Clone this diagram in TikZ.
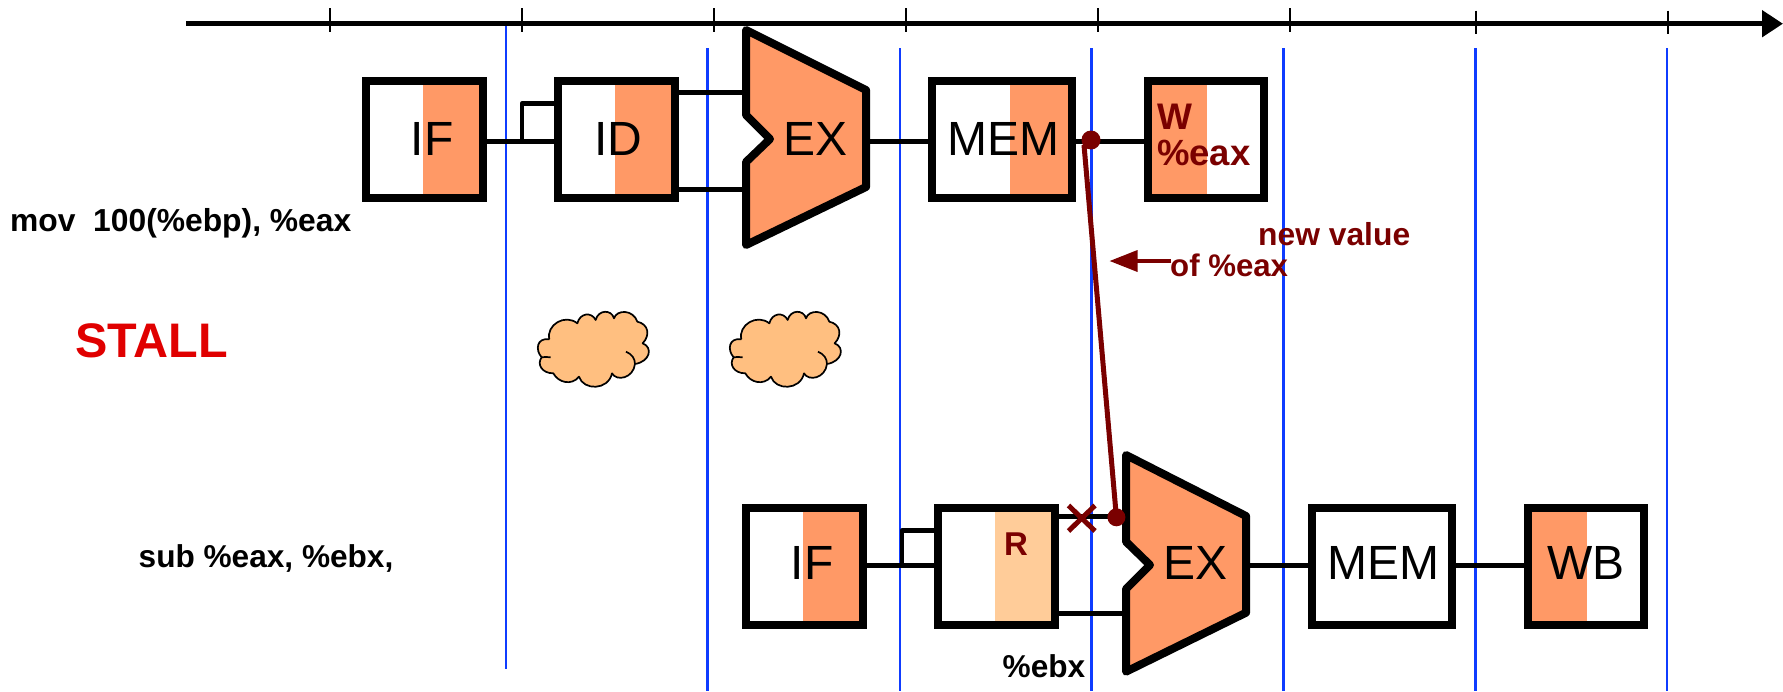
\documentclass[tikz,border=0pt]{standalone}
\usepackage{fontspec}
\setmainfont{Liberation Sans}
\usetikzlibrary{arrows.meta}
\definecolor{stageorange}{HTML}{FF9966}
\definecolor{lightorange}{HTML}{FFCC99}
\definecolor{cloudorange}{HTML}{FFBF80}
\definecolor{cycleblue}{HTML}{0F3CFF}
\definecolor{darkred}{HTML}{7A0000}
\definecolor{stallred}{HTML}{E00000}
\tikzset{
  stagebox/.style={draw=black,line width=8pt,inner sep=0pt,minimum height=117pt,minimum width=#1},
  wire/.style={draw=black,line width=5pt},
  thinwire/.style={draw=black,line width=4.5pt,line join=round},
  exunit/.style={draw=black,fill=stageorange,line width=8pt,line join=round},
  stagetext/.style={anchor=base,inner sep=0pt,font=\fontsize{48}{48}\selectfont},
  boldlabel/.style={anchor=base west,inner sep=0pt,font=\fontsize{#1}{#1}\selectfont\bfseries},
  redlabel/.style={boldlabel=#1,text=darkred},
  cyclebar/.style={draw=cycleblue,line width=2.2pt},
  tickmark/.style={draw=black,line width=2pt},
  cloudpic/.pic={
    \begin{scope}[x=0.3333pt,y=-0.3333pt]
    \filldraw[fill=cloudorange,draw=black,line width=1.7pt,line join=round]
      (148,148) .. controls (138,105) and (195,70) .. (232,100)
      .. controls (240,68) and (275,65) .. (287,90)
      .. controls (295,58) and (335,58) .. (342,85)
      .. controls (350,58) and (400,58) .. (412,95)
      .. controls (445,102) and (452,135) .. (428,160)
      .. controls (460,172) and (450,215) .. (405,222)
      .. controls (400,265) and (350,275) .. (336,250)
      .. controls (325,302) and (250,302) .. (237,260)
      .. controls (215,288) and (175,278) .. (160,250)
      .. controls (125,250) and (110,222) .. (125,202)
      .. controls (105,180) and (110,142) .. (148,148);
    \draw[black,line width=1.7pt] (125,202) .. controls (132,200) and (142,201) .. (152,202);
    \draw[black,line width=1.7pt] (378,185) .. controls (395,192) and (405,205) .. (405,222);
    \end{scope}
  }
}
\begin{document}
\begin{tikzpicture}[x=1pt,y=-1pt]
\useasboundingbox (0,0) rectangle (1783,691);
% cycle separators
\draw[cyclebar] (505.7,26) -- (505.7,669);
\foreach \bx in {707.5,900,1091.4,1283.5,1475.5,1667}
  \draw[cyclebar] (\bx,48) -- (\bx,691);
% time axis
\coordinate (axisstart) at (186,23.7);
\coordinate (axisend) at (1783,23.7);
\draw[line width=5pt,-{Triangle[length=21pt,width=26pt]}] (axisstart) -- (axisend);
\foreach \tx in {330,522,714,906,1098,1290}
  \draw[tickmark] (\tx,8) -- (\tx,32);
\foreach \tx in {1475.5,1668}
  \draw[tickmark] (\tx,10.7) -- (\tx,34);
% orange halves, upper row
\fill[stageorange] (423,80) rectangle (483,198);
\fill[stageorange] (615,80) rectangle (675,198);
\fill[stageorange] (1010,80) rectangle (1072,198);
\fill[stageorange] (1148,80) rectangle (1207,198);
% orange halves, lower row
\fill[stageorange] (803,506) rectangle (863,625);
\fill[lightorange] (995,506) rectangle (1055,625);
\fill[stageorange] (1528,506) rectangle (1587,625);
% upper boxes
\node[stagebox=117pt] (ifa) at (424.5,139.8) {};
\node[stagebox=117pt] (ida) at (616.5,139.8) {};
\node[stagebox=140pt] (mema) at (1002,139.8) {};
\node[stagebox=116pt] (wba) at (1206,139.8) {};
% lower boxes
\node[stagebox=117pt] (ifb) at (804.5,566.7) {};
\node[stagebox=117pt] (idb) at (996.5,566.7) {};
\node[stagebox=140pt] (memb) at (1382,566.7) {};
\node[stagebox=116pt] (wbb) at (1586,566.7) {};
% connector anchors on the EX units
\coordinate (exaUp) at (746,92.7);
\coordinate (exaLow) at (746,189);
\coordinate (exaOut) at (866,141);
\coordinate (exbUp) at (1126,516.7);
\coordinate (exbLow) at (1126,613);
\coordinate (exbOut) at (1246,565);
\coordinate (brancha) at (522,103.7);
\coordinate (branchb) at (902,530.7);
% upper wires
\draw[wire] ([yshift=-1.2pt]ifa.east) -- ([yshift=-1.2pt]ida.west);
\draw[thinwire] ([yshift=-1.2pt]ifa.east -| brancha) -- (brancha) -- (brancha -| ida.west);
\draw[wire] (ida.east |- exaUp) -- (exaUp);
\draw[wire] (ida.east |- exaLow) -- (exaLow);
\draw[wire] (exaOut) -- (exaOut -| mema.west);
\draw[wire] ([yshift=-1.2pt]mema.east) -- ([yshift=-1.2pt]wba.west);
% lower wires
\draw[wire] ([yshift=1.7pt]ifb.east) -- ([yshift=1.7pt]idb.west);
\draw[thinwire] ([yshift=1.7pt]ifb.east -| branchb) -- (branchb) -- (branchb -| idb.west);
\draw[wire] (idb.east |- exbUp) -- (exbUp);
\draw[wire] (idb.east |- exbLow) -- (exbLow);
\draw[wire] (exbOut) -- (exbOut -| memb.west);
\draw[wire] ([yshift=1.7pt]memb.east) -- ([yshift=1.7pt]wbb.west);
% EX units
\draw[exunit] (746,30) -- (866,90) -- (866,187) -- (746,245) -- (746,162) -- (770,139) -- (746,115) -- cycle;
\draw[exunit] (1126,455) -- (1246,516) -- (1246,612.7) -- (1126,671.7) -- (1126,589) -- (1150,565) -- (1126,541.7) -- cycle;
% stage labels
\node[stagetext] (tifa) at (432,155) {IF};
\node[stagetext] (tida) at (618,155) {ID};
\node[stagetext] (texa) at (815.7,155) {EX};
\node[stagetext] (tmema) at (1003,155) {MEM};
\node[stagetext] (tifb) at (812,579.5) {IF};
\node[stagetext] (texb) at (1195.7,579.5) {EX};
\node[stagetext] (tmemb) at (1383,579.5) {MEM};
\node[stagetext] (twbb) at (1586,579.5) {WB};
% forwarding
\coordinate (fwdtop) at (1084,145);
\node[circle,fill=darkred,inner sep=0pt,minimum size=19pt] (dota) at (1091,140) {};
\node[circle,fill=darkred,inner sep=0pt,minimum size=18pt] (dotb) at (1116.4,517.3) {};
\draw[darkred,line width=5pt] (fwdtop) -- (dotb.center);
\draw[darkred,line width=5pt] (1068.5,505.5) -- (1095,531);
\draw[darkred,line width=5pt] (1095,505.5) -- (1068.5,531);
\coordinate (notetail) at (1171,261);
\coordinate (notetip) at (1109.5,261);
\draw[darkred,line width=3.5pt,-{Triangle[length=28pt,width=21pt]}] (notetail) -- (notetip);
% red labels
\node[redlabel=37] (lw) at (1157,129) {W};
\node[redlabel=36.5] (leaxw) at (1157,165.7) {\%eax};
\node[redlabel=31.8] (lnew) at (1258,245.7) {new value};
\node[redlabel=31.2] (lof) at (1170,276) {of \%eax};
\node[anchor=base,inner sep=0pt,text=darkred,font=\fontsize{33}{33}\selectfont\bfseries] (lr) at (1016,555) {R};
% black labels
\node[boldlabel=31.8] (lmov) at (10,231) {mov\ \ 100(\%ebp), \%eax};
\node[boldlabel=31.6] (lsub) at (138.5,567) {sub \%eax, \%ebx,};
\node[boldlabel=31.6] (lebx) at (1002.5,677) {\%ebx};
\node[boldlabel=48.5,text=stallred] (lstall) at (75,357) {STALL};
% clouds
\pic at (500,290) {cloudpic};
\pic at (692,290) {cloudpic};
\end{tikzpicture}
\end{document}
